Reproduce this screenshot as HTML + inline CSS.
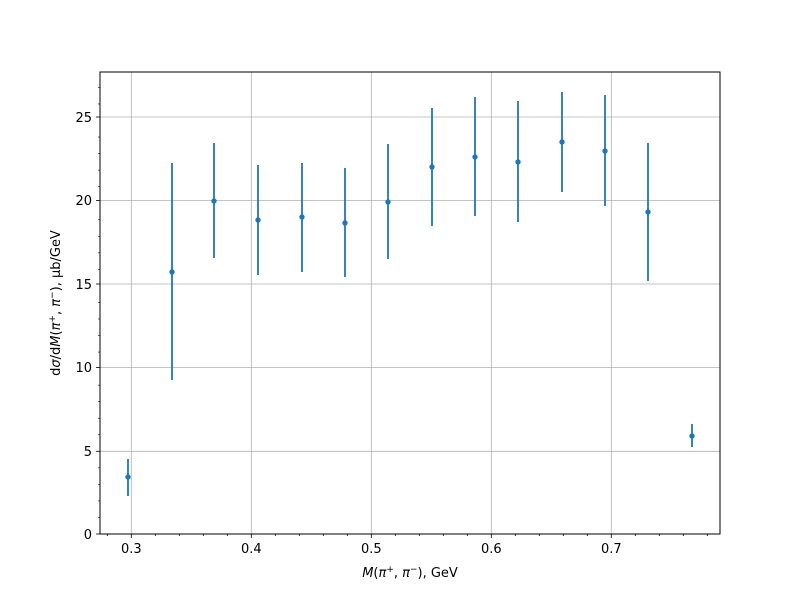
<!DOCTYPE html>
<html><head><meta charset="utf-8"><style>body{margin:0;background:#fff}</style></head><body>
<svg width="800" height="600" xmlns="http://www.w3.org/2000/svg" font-family="DejaVu Sans, Liberation Sans, sans-serif">
<rect width="800" height="600" fill="#fff"/>
<g stroke="#b0b0b0" stroke-width="0.8">
<line x1="131.3" y1="72" x2="131.3" y2="534"/><line x1="251.3" y1="72" x2="251.3" y2="534"/><line x1="371.3" y1="72" x2="371.3" y2="534"/><line x1="491.3" y1="72" x2="491.3" y2="534"/><line x1="611.3" y1="72" x2="611.3" y2="534"/>
<line x1="100" y1="451.3" x2="720" y2="451.3"/><line x1="100" y1="367.6" x2="720" y2="367.6"/><line x1="100" y1="284" x2="720" y2="284"/><line x1="100" y1="200.4" x2="720" y2="200.4"/><line x1="100" y1="117" x2="720" y2="117"/>
</g>
<g stroke="#1f77b4" stroke-width="1.8">
<line x1="128" y1="459" x2="128" y2="496"/><line x1="172" y1="163" x2="172" y2="380"/><line x1="214" y1="143" x2="214" y2="258"/><line x1="258" y1="165" x2="258" y2="275"/><line x1="302" y1="163" x2="302" y2="272"/><line x1="345" y1="168" x2="345" y2="277"/><line x1="388" y1="144" x2="388" y2="259"/><line x1="432" y1="108" x2="432" y2="226"/><line x1="475" y1="97" x2="475" y2="216"/><line x1="518" y1="101" x2="518" y2="222"/><line x1="562" y1="92" x2="562" y2="192"/><line x1="605" y1="95" x2="605" y2="206"/><line x1="648" y1="143" x2="648" y2="281"/><line x1="692" y1="424" x2="692" y2="447"/>
</g>
<g fill="#1f77b4">
<circle cx="128" cy="477" r="2.7"/><circle cx="172" cy="272" r="2.7"/><circle cx="214" cy="201" r="2.7"/><circle cx="258" cy="220" r="2.7"/><circle cx="302" cy="217" r="2.7"/><circle cx="345" cy="223" r="2.7"/><circle cx="388" cy="202" r="2.7"/><circle cx="432" cy="167" r="2.7"/><circle cx="475" cy="157" r="2.7"/><circle cx="518" cy="162" r="2.7"/><circle cx="562" cy="142" r="2.7"/><circle cx="605" cy="151" r="2.7"/><circle cx="648" cy="212" r="2.7"/><circle cx="692" cy="436" r="2.7"/>
</g>
<rect x="100" y="72" width="620" height="462" fill="none" stroke="#000" stroke-width="1"/>
<g stroke="#000" stroke-width="0.8">
<line x1="131.3" y1="534" x2="131.3" y2="538"/><line x1="251.3" y1="534" x2="251.3" y2="538"/><line x1="371.3" y1="534" x2="371.3" y2="538"/><line x1="491.3" y1="534" x2="491.3" y2="538"/><line x1="611.3" y1="534" x2="611.3" y2="538"/>
<line x1="107.3" y1="534" x2="107.3" y2="536"/><line x1="155.3" y1="534" x2="155.3" y2="536"/><line x1="179.3" y1="534" x2="179.3" y2="536"/><line x1="203.3" y1="534" x2="203.3" y2="536"/><line x1="227.3" y1="534" x2="227.3" y2="536"/><line x1="275.3" y1="534" x2="275.3" y2="536"/><line x1="299.3" y1="534" x2="299.3" y2="536"/><line x1="323.3" y1="534" x2="323.3" y2="536"/><line x1="347.3" y1="534" x2="347.3" y2="536"/><line x1="395.3" y1="534" x2="395.3" y2="536"/><line x1="419.3" y1="534" x2="419.3" y2="536"/><line x1="443.3" y1="534" x2="443.3" y2="536"/><line x1="467.3" y1="534" x2="467.3" y2="536"/><line x1="515.3" y1="534" x2="515.3" y2="536"/><line x1="539.3" y1="534" x2="539.3" y2="536"/><line x1="563.3" y1="534" x2="563.3" y2="536"/><line x1="587.3" y1="534" x2="587.3" y2="536"/><line x1="635.3" y1="534" x2="635.3" y2="536"/><line x1="659.3" y1="534" x2="659.3" y2="536"/><line x1="683.3" y1="534" x2="683.3" y2="536"/><line x1="707.3" y1="534" x2="707.3" y2="536"/>
<line x1="96" y1="534" x2="100" y2="534"/><line x1="96" y1="451.3" x2="100" y2="451.3"/><line x1="96" y1="367.6" x2="100" y2="367.6"/><line x1="96" y1="284" x2="100" y2="284"/><line x1="96" y1="200.4" x2="100" y2="200.4"/><line x1="96" y1="117" x2="100" y2="117"/>
</g>
<g stroke="#000" stroke-width="0.6" id="ym"></g>
<g font-size="13" fill="#000" text-anchor="middle">
<text x="131.3" y="553">0.3</text><text x="251.3" y="553">0.4</text><text x="371.3" y="553">0.5</text><text x="491.3" y="553">0.6</text><text x="611.3" y="553">0.7</text>
</g>
<g font-size="13" fill="#000" text-anchor="end">
<text x="92" y="539">0</text><text x="92" y="456">5</text><text x="92" y="372">10</text><text x="92" y="289">15</text><text x="92" y="205">20</text><text x="92" y="122">25</text>
</g>
<text x="410" y="577" font-size="13" text-anchor="middle"><tspan font-style="italic">M</tspan>(<tspan font-style="italic">π</tspan><tspan dy="-5" font-size="9">+</tspan><tspan dy="5">, </tspan><tspan font-style="italic">π</tspan><tspan dy="-5" font-size="9">−</tspan><tspan dy="5">), GeV</tspan></text>
<text transform="translate(60,303) rotate(-90)" font-size="13" text-anchor="middle">d<tspan font-style="italic">σ</tspan>/d<tspan font-style="italic">M</tspan>(<tspan font-style="italic">π</tspan><tspan dy="-5" font-size="9">+</tspan><tspan dy="5">, </tspan><tspan font-style="italic">π</tspan><tspan dy="-5" font-size="9">−</tspan><tspan dy="5">), μb/GeV</tspan></text>
</svg>
<script>
var g=document.getElementById('ym');
for(var v=1;v<28;v++){if(v%5==0)continue;var y=534-v*16.54;var l=document.createElementNS('http://www.w3.org/2000/svg','line');l.setAttribute('x1',98);l.setAttribute('x2',100);l.setAttribute('y1',y);l.setAttribute('y2',y);g.appendChild(l);}
</script>
</body></html>
